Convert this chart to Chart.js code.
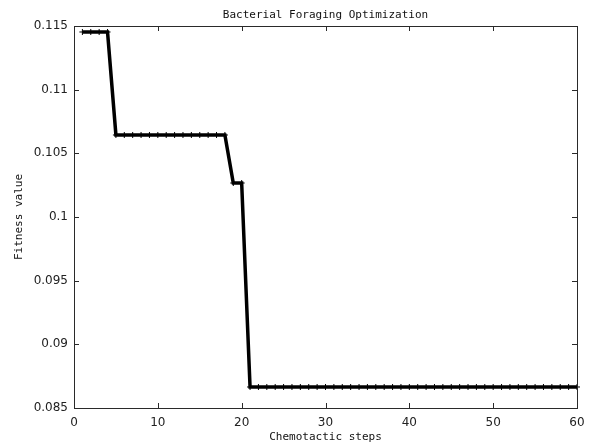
<!DOCTYPE html>
<html>
<head>
<meta charset="utf-8">
<script src="https://cdn.jsdelivr.net/npm/chart.js@4/dist/chart.umd.min.js"></script>
<style>
  html, body { margin: 0; padding: 0; background: #fff; }
  #wrap { width: 590px; height: 448px; }
</style>
</head>
<body>
<div id="wrap"><canvas id="c" width="590" height="448"></canvas></div>
<script>
const chartTitle = "Bacterial Foraging Optimization";
const xTitle = "Chemotactic steps";
const yTitle = "Fitness value";

const steps = [1,2,3,4,5,6,7,8,9,10,11,12,13,14,15,16,17,18,19,20,
               21,22,23,24,25,26,27,28,29,30,31,32,33,34,35,36,37,38,39,40,
               41,42,43,44,45,46,47,48,49,50,51,52,53,54,55,56,57,58,59,60];

const fitness = [
  0.11453, 0.11453, 0.11453, 0.11453,
  0.10644, 0.10644, 0.10644, 0.10644, 0.10644, 0.10644, 0.10644,
  0.10644, 0.10644, 0.10644, 0.10644, 0.10644, 0.10644, 0.10644,
  0.10267, 0.10267,
  0.08665, 0.08665, 0.08665, 0.08665, 0.08665, 0.08665, 0.08665, 0.08665, 0.08665, 0.08665,
  0.08665, 0.08665, 0.08665, 0.08665, 0.08665, 0.08665, 0.08665, 0.08665, 0.08665, 0.08665,
  0.08665, 0.08665, 0.08665, 0.08665, 0.08665, 0.08665, 0.08665, 0.08665, 0.08665, 0.08665,
  0.08665, 0.08665, 0.08665, 0.08665, 0.08665, 0.08665, 0.08665, 0.08665, 0.08665, 0.08665
];

const xMin = 0, xMax = 60, xStep = 10;
const yMin = 0.085, yMax = 0.115, yStep = 0.005;

const points = steps.map((s, i) => ({ x: s, y: fitness[i] }));

const axisColor = '#2a2a2a';

const matlabFrame = {
  id: 'matlabFrame',
  afterDatasetsDraw(chart) {
    const { ctx, chartArea: a, scales } = chart;
    ctx.save();
    ctx.strokeStyle = axisColor;
    ctx.lineWidth = 1;
    const tl = 5;
    ctx.beginPath();
    scales.x.ticks.forEach(t => {
      const px = Math.round(scales.x.getPixelForValue(t.value)) + 0.5;
      ctx.moveTo(px, a.bottom); ctx.lineTo(px, a.bottom - tl);
      ctx.moveTo(px, a.top); ctx.lineTo(px, a.top + tl);
    });
    scales.y.ticks.forEach(t => {
      const py = Math.round(scales.y.getPixelForValue(t.value)) + 0.5;
      ctx.moveTo(a.left, py); ctx.lineTo(a.left + tl, py);
      ctx.moveTo(a.right, py); ctx.lineTo(a.right - tl, py);
    });
    ctx.stroke();
    ctx.strokeRect(Math.round(a.left) + 0.5, Math.round(a.top) + 0.5,
                   Math.round(a.right - a.left), Math.round(a.bottom - a.top));
    ctx.restore();
  },
  afterDraw(chart) {
    const { ctx, chartArea: a } = chart;
    ctx.save();
    ctx.fillStyle = '#111';
    ctx.font = '11px "DejaVu Sans Mono"';
    ctx.textAlign = 'center';
    ctx.textBaseline = 'middle';
    ctx.fillText(chartTitle, (a.left + a.right) / 2, 15);
    ctx.restore();
  }
};

new Chart(document.getElementById('c'), {
  type: 'line',
  data: {
    datasets: [{
      data: points,
      borderColor: '#000',
      backgroundColor: '#000',
      borderWidth: 3.5,
      tension: 0,
      pointStyle: 'cross',
      pointRadius: 3,
      pointBorderWidth: 1,
      pointBorderColor: '#000',
      pointHoverRadius: 3,
      clip: false
    }]
  },
  options: {
    responsive: false,
    animation: false,
    events: [],
    layout: { padding: { left: 0, right: 13, top: 26, bottom: 0 } },
    plugins: { legend: { display: false }, title: { display: false }, tooltip: { enabled: false } },
    scales: {
      x: {
        type: 'linear',
        min: xMin, max: xMax,
        grid: { display: false, drawTicks: false },
        border: { display: false },
        ticks: {
          stepSize: xStep,
          padding: 8,
          color: '#222',
          font: { family: 'DejaVu Sans', size: 12 },
          maxRotation: 0
        },
        title: {
          display: true, text: xTitle, color: '#111',
          font: { family: 'DejaVu Sans Mono', size: 11 },
          padding: { top: 0, bottom: 4 }
        },
        afterFit(scale) { scale.height = 40; scale.paddingLeft = 0; scale.paddingRight = 0; }
      },
      y: {
        type: 'linear',
        min: yMin, max: yMax,
        grid: { display: false, drawTicks: false },
        border: { display: false },
        ticks: {
          stepSize: yStep,
          padding: 6,
          color: '#222',
          font: { family: 'DejaVu Sans', size: 12 },
          callback: v => String(parseFloat(v.toFixed(3)))
        },
        title: {
          display: true, text: yTitle, color: '#111',
          font: { family: 'DejaVu Sans Mono', size: 11 },
          padding: { top: 13, bottom: 0 }
        },
        afterFit(scale) { scale.width = 74; scale.paddingTop = 0; scale.paddingBottom = 0; }
      }
    }
  },
  plugins: [matlabFrame]
});
</script>
</body>
</html>
